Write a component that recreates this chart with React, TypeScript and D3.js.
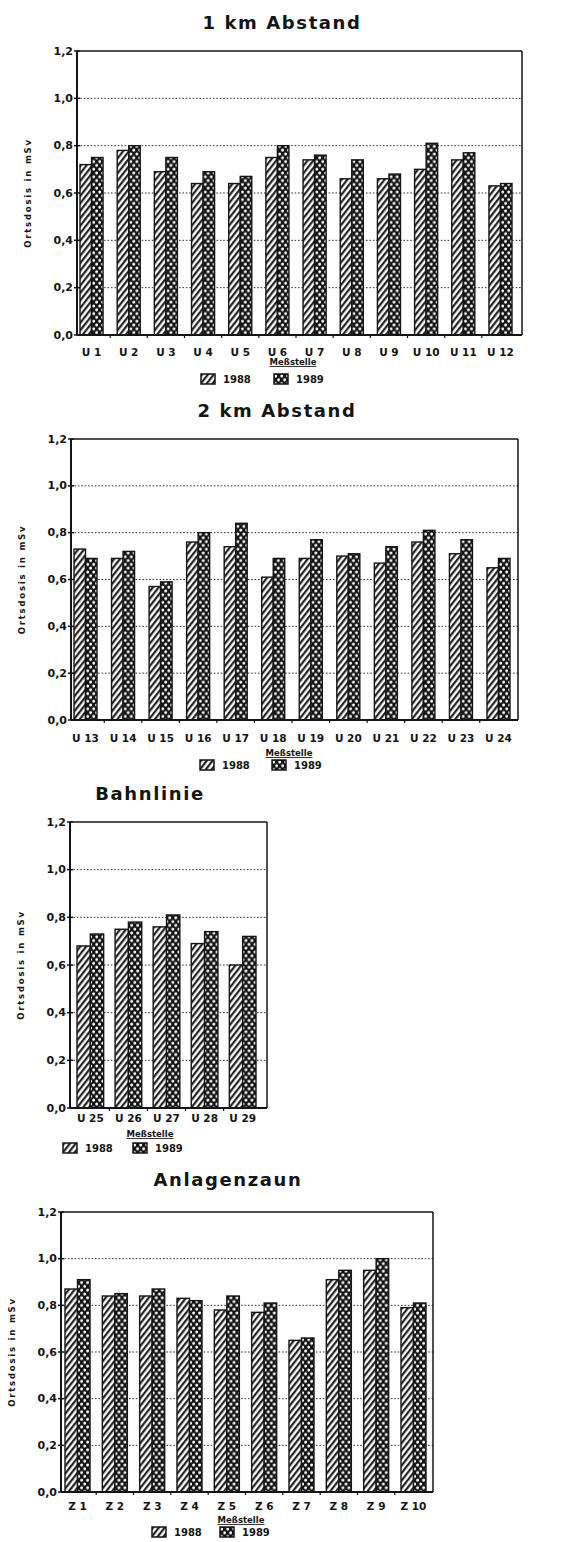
import React, { useEffect, useRef } from 'react';
import * as d3 from 'd3';

// Ortsdosis (mSv) per Meßstelle, 1988 vs 1989
const stations1 = ['U 1', 'U 2', 'U 3', 'U 4', 'U 5', 'U 6', 'U 7', 'U 8', 'U 9', 'U 10', 'U 11', 'U 12'];
const dose1988km1 = [0.72, 0.78, 0.69, 0.64, 0.64, 0.75, 0.74, 0.66, 0.66, 0.70, 0.74, 0.63];
const dose1989km1 = [0.75, 0.80, 0.75, 0.69, 0.67, 0.80, 0.76, 0.74, 0.68, 0.81, 0.77, 0.64];

const stations2 = ['U 13', 'U 14', 'U 15', 'U 16', 'U 17', 'U 18', 'U 19', 'U 20', 'U 21', 'U 22', 'U 23', 'U 24'];
const dose1988km2 = [0.73, 0.69, 0.57, 0.76, 0.74, 0.61, 0.69, 0.70, 0.67, 0.76, 0.71, 0.65];
const dose1989km2 = [0.69, 0.72, 0.59, 0.80, 0.84, 0.69, 0.77, 0.71, 0.74, 0.81, 0.77, 0.69];

const stations3 = ['U 25', 'U 26', 'U 27', 'U 28', 'U 29'];
const dose1988bahn = [0.68, 0.75, 0.76, 0.69, 0.60];
const dose1989bahn = [0.73, 0.78, 0.81, 0.74, 0.72];

const stations4 = ['Z 1', 'Z 2', 'Z 3', 'Z 4', 'Z 5', 'Z 6', 'Z 7', 'Z 8', 'Z 9', 'Z 10'];
const dose1988zaun = [0.87, 0.84, 0.84, 0.83, 0.78, 0.77, 0.65, 0.91, 0.95, 0.79];
const dose1989zaun = [0.91, 0.85, 0.87, 0.82, 0.84, 0.81, 0.66, 0.95, 1.00, 0.81];

const yTicks = [0, 0.2, 0.4, 0.6, 0.8, 1.0, 1.2];
const years = ['1988', '1989'];

interface Panel {
  title: string;
  cats: string[];
  a: number[];
  b: number[];
  titleX: number;
  titleY: number;
  left: number;
  top: number;
  right: number;
  bottom: number;
  barStart: number;
  barEnd: number;
  pad: number;
  labelY: number;
  meterX: number;
  meterY: number;
  legendY: number;
  legendX: [number, number];
}

const panels: Panel[] = [
  {
    title: '1 km Abstand', cats: stations1, a: dose1988km1, b: dose1989km1,
    titleX: 282, titleY: 29, left: 77, top: 51, right: 522, bottom: 335,
    barStart: 80, barEnd: 512, pad: 0.38, labelY: 356, meterX: 293, meterY: 365,
    legendY: 379, legendX: [201, 274]
  },
  {
    title: '2 km Abstand', cats: stations2, a: dose1988km2, b: dose1989km2,
    titleX: 277, titleY: 417, left: 71, top: 439, right: 518, bottom: 720,
    barStart: 74, barEnd: 510, pad: 0.387, labelY: 742, meterX: 289, meterY: 756,
    legendY: 765, legendX: [200, 272]
  },
  {
    title: 'Bahnlinie', cats: stations3, a: dose1988bahn, b: dose1989bahn,
    titleX: 150, titleY: 800, left: 70, top: 822, right: 267, bottom: 1108,
    barStart: 77, barEnd: 256, pad: 0.3, labelY: 1122, meterX: 150, meterY: 1137,
    legendY: 1148, legendX: [63, 133]
  },
  {
    title: 'Anlagenzaun', cats: stations4, a: dose1988zaun, b: dose1989zaun,
    titleX: 228, titleY: 1186, left: 61, top: 1212, right: 433, bottom: 1492,
    barStart: 65, barEnd: 426, pad: 0.33, labelY: 1510, meterX: 241, meterY: 1523,
    legendY: 1532, legendX: [152, 220]
  }
];

const INK = '#141414';
const FONT = '"DejaVu Sans", Verdana, sans-serif';

const App: React.FC = () => {
  const svgRef = useRef<SVGSVGElement>(null);

  useEffect(() => {
    if (!svgRef.current) return;
    const svg = d3.select(svgRef.current);
    svg.selectAll('*').remove();

    // fill patterns
    const defs = svg.append('defs');
    const hatch = defs.append('pattern')
      .attr('id', 'hatch')
      .attr('patternUnits', 'userSpaceOnUse')
      .attr('width', 4.6)
      .attr('height', 4.6)
      .attr('patternTransform', 'rotate(38)');
    hatch.append('rect').attr('width', 4.6).attr('height', 4.6).attr('fill', '#fff');
    hatch.append('line')
      .attr('x1', 1.2).attr('x2', 1.2).attr('y1', -1).attr('y2', 6)
      .attr('stroke', INK).attr('stroke-width', 2.1);

    const dots = defs.append('pattern')
      .attr('id', 'dots')
      .attr('patternUnits', 'userSpaceOnUse')
      .attr('width', 6)
      .attr('height', 7.6);
    dots.append('rect').attr('width', 6).attr('height', 7.6).attr('fill', INK);
    dots.append('circle').attr('cx', 1.7).attr('cy', 2).attr('r', 1.45).attr('fill', '#fff');
    dots.append('circle').attr('cx', 4.6).attr('cy', 5.8).attr('r', 1.45).attr('fill', '#fff');

    const fills = ['url(#hatch)', 'url(#dots)'];

    panels.forEach(p => {
      const g = svg.append('g');

      const y = d3.scaleLinear().domain([0, 1.2]).range([p.bottom, p.top]);
      const x = d3.scaleBand<string>()
        .domain(p.cats)
        .range([p.barStart, p.barEnd])
        .paddingInner(p.pad)
        .paddingOuter(0)
        .align(0);
      const bw = x.bandwidth() / 2;

      // title
      g.append('text')
        .attr('x', p.titleX)
        .attr('y', p.titleY)
        .attr('text-anchor', 'middle')
        .style('font-family', FONT)
        .style('font-size', '18px')
        .style('font-weight', 'bold')
        .style('letter-spacing', '1.6px')
        .style('fill', INK)
        .text(p.title);

      // dotted grid lines
      g.selectAll('.grid')
        .data(yTicks.slice(1, -1))
        .enter()
        .append('line')
        .attr('x1', p.left)
        .attr('x2', p.right)
        .attr('y1', d => y(d))
        .attr('y2', d => y(d))
        .attr('stroke', '#333')
        .attr('stroke-width', 1)
        .attr('stroke-dasharray', '1.6,1.8');

      // bars
      const groups = g.selectAll('.pair')
        .data(p.cats)
        .enter()
        .append('g')
        .attr('transform', d => `translate(${x(d)},0)`);

      [p.a, p.b].forEach((vals, k) => {
        groups.append('rect')
          .attr('x', k * bw)
          .attr('y', (_, i) => y(vals[i]))
          .attr('width', bw)
          .attr('height', (_, i) => p.bottom - y(vals[i]))
          .attr('fill', fills[k])
          .attr('stroke', INK)
          .attr('stroke-width', 1.4);
      });

      // frame
      g.append('line')
        .attr('x1', p.left).attr('x2', p.right)
        .attr('y1', p.top).attr('y2', p.top)
        .attr('stroke', INK).attr('stroke-width', 1.5);
      g.append('line')
        .attr('x1', p.right).attr('x2', p.right)
        .attr('y1', p.top).attr('y2', p.bottom)
        .attr('stroke', INK).attr('stroke-width', 1.5);
      g.append('line')
        .attr('x1', p.left).attr('x2', p.right)
        .attr('y1', p.bottom).attr('y2', p.bottom)
        .attr('stroke', INK).attr('stroke-width', 1.8);
      g.append('line')
        .attr('x1', p.left).attr('x2', p.left)
        .attr('y1', p.top).attr('y2', p.bottom)
        .attr('stroke', INK).attr('stroke-width', 2);

      // y ticks + labels
      yTicks.forEach(t => {
        g.append('line')
          .attr('x1', p.left - 3).attr('x2', p.left + 3)
          .attr('y1', y(t)).attr('y2', y(t))
          .attr('stroke', INK).attr('stroke-width', 1.5);
        g.append('text')
          .attr('x', p.left - 4)
          .attr('y', y(t))
          .attr('dy', '0.32em')
          .attr('text-anchor', 'end')
          .style('font-family', FONT)
          .style('font-size', '11px')
          .style('font-weight', 'bold')
          .style('fill', INK)
          .text(d3.format('.1f')(t).replace('.', ','));
      });

      // y axis title
      g.append('text')
        .attr('transform', `translate(${p.left - 46},${(p.top + p.bottom) / 2}) rotate(-90)`)
        .attr('text-anchor', 'middle')
        .style('font-family', FONT)
        .style('font-size', '8.5px')
        .style('font-weight', 'bold')
        .style('letter-spacing', '1.8px')
        .style('fill', INK)
        .text('Ortsdosis in mSv');

      // x ticks between pairs
      const step = x.step();
      p.cats.slice(1).forEach(c => {
        const tx = (x(c) as number) - (step - x.bandwidth()) / 2;
        g.append('line')
          .attr('x1', tx).attr('x2', tx)
          .attr('y1', p.bottom).attr('y2', p.bottom + 3)
          .attr('stroke', INK).attr('stroke-width', 1.2);
      });

      // x labels
      g.selectAll('.xlab')
        .data(p.cats)
        .enter()
        .append('text')
        .attr('x', d => (x(d) as number) + x.bandwidth() / 2)
        .attr('y', p.labelY)
        .attr('text-anchor', 'middle')
        .style('font-family', FONT)
        .style('font-size', '10.5px')
        .style('font-weight', 'bold')
        .style('fill', INK)
        .text(d => d);

      g.append('text')
        .attr('x', p.meterX)
        .attr('y', p.meterY)
        .attr('text-anchor', 'middle')
        .style('font-family', FONT)
        .style('font-size', '8.5px')
        .style('font-weight', 'bold')
        .style('text-decoration', 'underline')
        .style('fill', INK)
        .text('Meßstelle');

      // legend
      years.forEach((yr, k) => {
        const lg = g.append('g')
          .attr('transform', `translate(${p.legendX[k]},${p.legendY - 5})`);
        lg.append('rect')
          .attr('width', 14)
          .attr('height', 10)
          .attr('fill', fills[k])
          .attr('stroke', INK)
          .attr('stroke-width', 1.5);
        lg.append('text')
          .attr('x', 22)
          .attr('y', 9)
          .style('font-family', FONT)
          .style('font-size', '10px')
          .style('font-weight', 'bold')
          .style('fill', INK)
          .text(yr);
      });
    });
  }, []);

  return (
    <div style={{ position: 'absolute', left: 0, top: 0 }}>
      <svg ref={svgRef} width={568} height={1542} style={{ display: 'block', background: '#fff' }} />
    </div>
  );
};

export default App;
